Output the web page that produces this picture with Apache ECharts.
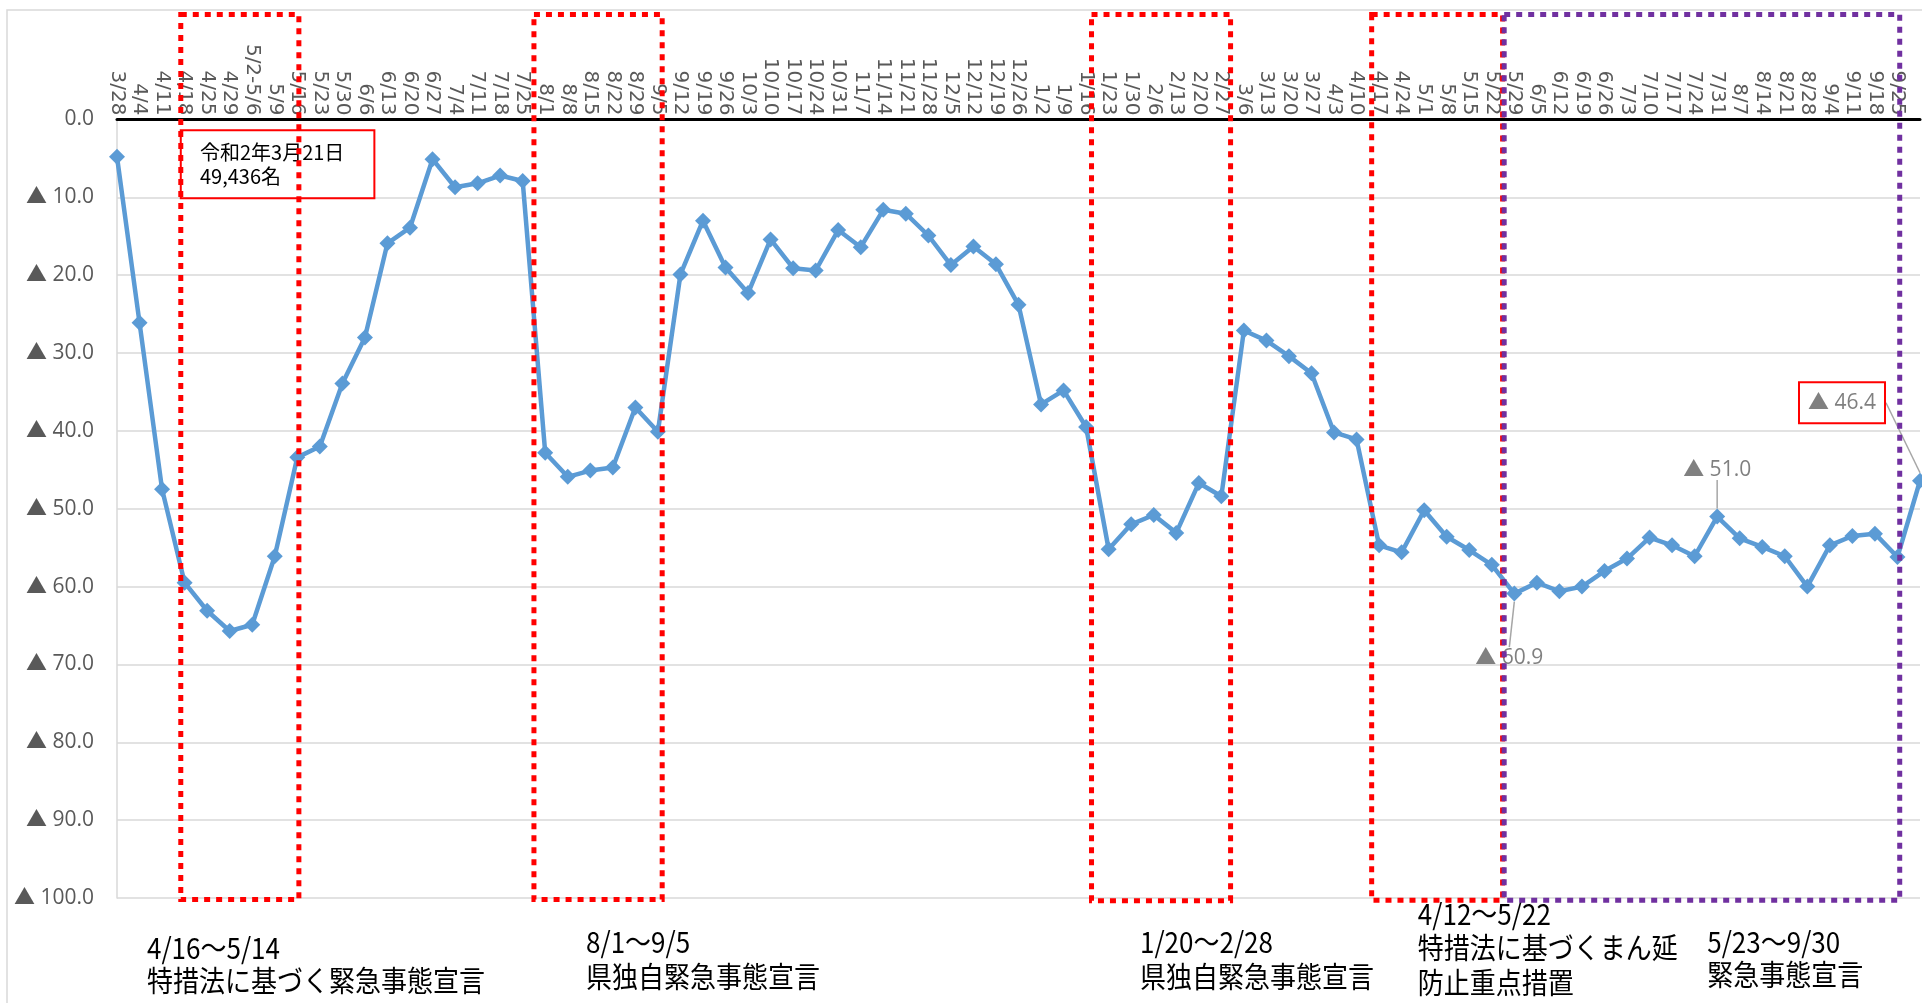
<!DOCTYPE html>
<html><head><meta charset="utf-8">
<script src="https://cdn.jsdelivr.net/npm/echarts@6/dist/echarts.min.js"></script>
<style>html,body{margin:0;padding:0;background:#fff}#c{width:1922px;height:1003px}</style>
</head><body><div id="c"></div><script>
// ---- data ----
const categories = ['3/28','4/4','4/11','4/18','4/25','4/29','5/2-5/6','5/9','5/16','5/23','5/30','6/6','6/13','6/20','6/27','7/4','7/11','7/18','7/25','8/1','8/8','8/15','8/22','8/29','9/5','9/12','9/19','9/26','10/3','10/10','10/17','10/24','10/31','11/7','11/14','11/21','11/28','12/5','12/12','12/19','12/26','1/2','1/9','1/16','1/23','1/30','2/6','2/13','2/20','2/27','3/6','3/13','3/20','3/27','4/3','4/10','4/17','4/24','5/1','5/8','5/15','5/22','5/29','6/5','6/12','6/19','6/26','7/3','7/10','7/17','7/24','7/31','8/7','8/14','8/21','8/28','9/4','9/11','9/18','9/25',''];
// decline rate (▲ %) vs 2020-03-21 baseline
const declineRates = [4.8,26.1,47.5,59.5,63.1,65.7,64.9,56.1,43.4,42.0,33.9,28.0,15.9,13.9,5.1,8.7,8.2,7.2,7.9,42.8,45.9,45.1,44.7,37.0,40.1,19.9,13.0,19.0,22.3,15.4,19.1,19.4,14.2,16.4,11.6,12.1,14.9,18.7,16.3,18.6,23.8,36.6,34.8,39.5,55.2,52.0,50.8,53.1,46.7,48.4,27.1,28.4,30.4,32.6,40.2,41.1,54.7,55.6,50.2,53.6,55.3,57.2,60.9,59.5,60.6,60.0,58.0,56.4,53.7,54.7,56.1,51.0,53.8,54.9,56.1,60.0,54.7,53.5,53.2,56.2,46.4];
const yTicks = [0,10,20,30,40,50,60,70,80,90,100];
const labeledIdx = [62, 71, 80];
const boxedIdx = 80;
const baseNote = ['令和2年3月21日', '49,436名'];
// periods: [start index (fractional), end index, colour, text lines]
const periods = [
  {s: 2.83, e: 8.07, color: '#FF0000', lines: ['4/16〜5/14', '特措法に基づく緊急事態宣言']},
  {s: 18.5, e: 24.19, color: '#FF0000', lines: ['8/1〜9/5', '県独自緊急事態宣言']},
  {s: 43.24, e: 49.41, color: '#FF0000', lines: ['1/20〜2/28', '県独自緊急事態宣言']},
  {s: 55.67, e: 61.48, color: '#FF0000', lines: ['4/12〜5/22', '特措法に基づくまん延', '防止重点措置']},
  {s: 61.55, e: 79.1, color: '#7030A0', lines: ['5/23〜9/30', '緊急事態宣言']}
];

// ---- layout (pixels / offsets) ----
const labelOffsets = {62: [-5, 64], 71: [0, -47], 80: [-78, -78]};
const textLayout = [
  {x: 1.33, ys: [106.4, 110.7]},
  {x: 20.81, ys: [105.65, 110.2]},
  {x: 45.39, ys: [105.65, 110.2]},
  {x: 57.72, ys: [102.0, 106.45, 110.85]},
  {x: 70.56, ys: [105.65, 109.9]}
];
const boxBottoms = [100.2, 100.2, 100.35, 100.3, 100.3];

const LABEL_FONT = "'Open Sans','Noto Sans CJK JP',sans-serif";
const CJK_FONT = "'Noto Sans CJK JP',sans-serif";

const chart = echarts.init(document.getElementById('c'), null, {renderer: 'canvas'});

const seriesData = declineRates.map((v, i) => {
  if (labeledIdx.indexOf(i) < 0) return v;
  const boxed = i === boxedIdx;
  return {
    value: v,
    label: {
      show: true, position: 'inside',
      formatter: '▲ ' + v.toFixed(1),
      color: '#808080', fontSize: 21, fontFamily: LABEL_FONT,
      borderColor: boxed ? '#FF0000' : 'transparent',
      borderWidth: boxed ? 2 : 0,
      padding: boxed ? [10, 9, 10, 9] : 0
    }
  };
});

chart.setOption({
  animation: false,
  backgroundColor: '#ffffff',
  grid: {left: 117, right: 2, top: 119.5, bottom: 105, containLabel: false, outerBoundsMode: 'none'},
  xAxis: {
    type: 'category', data: categories, boundaryGap: false, position: 'top',
    axisLine: {onZero: false, lineStyle: {color: '#000', width: 3}},
    axisTick: {show: false},
    axisLabel: {interval: 0, rotate: 90, margin: 4, color: '#595959', fontSize: 20, fontFamily: 'DejaVu Sans'},
    splitLine: {show: false}
  },
  yAxis: {
    type: 'value', inverse: true, min: yTicks[0], max: yTicks[yTicks.length - 1], interval: 10,
    axisLine: {show: true, lineStyle: {color: '#D9D9D9', width: 1.5}},
    axisTick: {show: false},
    axisLabel: {margin: 23, color: '#595959', fontSize: 21, fontFamily: LABEL_FONT,
      formatter: v => v === 0 ? '0.0' : '▲ ' + v.toFixed(1)},
    splitLine: {lineStyle: {color: '#D9D9D9', width: 1.5}}
  },
  series: [{
    type: 'line', data: seriesData,
    symbol: 'diamond', symbolSize: 16,
    lineStyle: {color: '#5B9BD5', width: 4.5},
    itemStyle: {color: '#5B9BD5'},
    label: {show: false},
    labelLine: {show: true, lineStyle: {color: '#A6A6A6', width: 1.5}},
    labelLayout: p => { const o = labelOffsets[p.dataIndex]; return o ? {dx: o[0], dy: o[1]} : {}; },
    emphasis: {disabled: true},
    z: 3
  }]
});

const x0 = chart.convertToPixel({xAxisIndex: 0}, 0);
const x80 = chart.convertToPixel({xAxisIndex: 0}, 80);
const px = i => x0 + (x80 - x0) * i / 80;
const y0 = chart.convertToPixel({yAxisIndex: 0}, 0);
const y100 = chart.convertToPixel({yAxisIndex: 0}, 100);
const py = v => y0 + (y100 - y0) * v / 100;

const g = [];
// chart area border
g.push({type: 'rect', z: 0, shape: {x: 7, y: 10, width: 2000, height: 1100},
  style: {fill: 'none', stroke: '#D9D9D9', lineWidth: 1.5}, silent: true});
// base note
g.push({type: 'rect', z: 5, shape: {x: px(2.83), y: py(1.39), width: px(11.42) - px(2.83), height: py(10.1) - py(1.39)},
  style: {fill: 'none', stroke: '#FF0000', lineWidth: 2}, silent: true});
baseNote.forEach((t, k) => g.push({type: 'text', z: 6, x: px(3.68), y: py([4.17, 7.25][k]),
  style: {text: t, fontSize: 20, fontFamily: CJK_FONT, fill: '#000', verticalAlign: 'middle', align: 'left'}, silent: true}));
// period boxes + texts
periods.forEach((p, k) => {
  const top = py(-13.5), bot = py(boxBottoms[k]);
  g.push({type: 'rect', z: 20, shape: {x: px(p.s), y: top, width: px(p.e) - px(p.s), height: bot - top},
    style: {fill: 'none', stroke: p.color, lineWidth: 5, lineDash: [6, 6]}, silent: true});
  const tl = textLayout[k];
  p.lines.forEach((t, j) => g.push({type: 'text', z: 6, x: px(tl.x), y: py(tl.ys[j]), scaleY: 1.12,
    style: {text: t, x: 0, y: 0, fontSize: 26, fontFamily: CJK_FONT, fill: '#000', verticalAlign: 'middle', align: 'left'}, silent: true}));
});
chart.setOption({graphic: g});
</script></body></html>
